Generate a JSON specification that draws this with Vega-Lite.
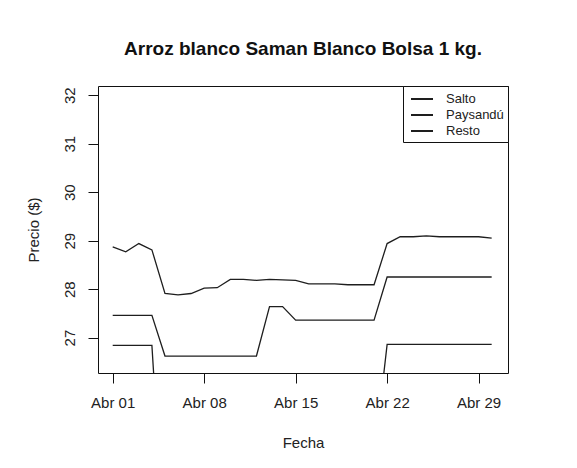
{
  "$schema": "https://vega.github.io/schema/vega-lite/v6.json",
  "autosize": "none",
  "padding": {"left": 98, "top": 86, "right": 69, "bottom": 95},
  "width": 410,
  "height": 287,
  "background": "white",
  "title": {"text": "Arroz blanco Saman Blanco Bolsa 1 kg.", "anchor": "middle", "fontSize": 19, "fontWeight": "bold", "font": "Liberation Sans", "color": "#111", "offset": 27, "frame": "group"},
  "config": {
    "font": "Liberation Sans",
    "view": {"stroke": "#111", "strokeWidth": 1},
    "axis": {"grid": false, "domain": false, "tickColor": "#111", "tickSize": 10, "tickWidth": 1, "labelColor": "#222", "titleColor": "#222", "labelFontSize": 15, "titleFontSize": 15, "titleFontWeight": "normal", "labelFont": "Liberation Sans", "titleFont": "Liberation Sans"},
    "legend": {"orient": "top-right", "offset": 0, "strokeColor": "#111", "fillColor": "white", "padding": 4, "symbolOffset": 6, "symbolType": "M-1.375,0H1.375", "symbolSize": 256, "symbolStrokeWidth": 2, "symbolFillColor": "transparent", "labelFontSize": 13, "labelOffset": 15, "rowPadding": -1, "labelColor": "#222"}
  },
  "data": {"values": [
    {"date": "2011-04-01", "series": "Resto", "price": 28.87},
    {"date": "2011-04-02", "series": "Resto", "price": 28.77},
    {"date": "2011-04-03", "series": "Resto", "price": 28.94},
    {"date": "2011-04-04", "series": "Resto", "price": 28.81},
    {"date": "2011-04-05", "series": "Resto", "price": 27.91},
    {"date": "2011-04-06", "series": "Resto", "price": 27.88},
    {"date": "2011-04-07", "series": "Resto", "price": 27.91},
    {"date": "2011-04-08", "series": "Resto", "price": 28.02},
    {"date": "2011-04-09", "series": "Resto", "price": 28.03},
    {"date": "2011-04-10", "series": "Resto", "price": 28.20},
    {"date": "2011-04-11", "series": "Resto", "price": 28.20},
    {"date": "2011-04-12", "series": "Resto", "price": 28.18},
    {"date": "2011-04-13", "series": "Resto", "price": 28.20},
    {"date": "2011-04-14", "series": "Resto", "price": 28.19},
    {"date": "2011-04-15", "series": "Resto", "price": 28.18},
    {"date": "2011-04-16", "series": "Resto", "price": 28.11},
    {"date": "2011-04-17", "series": "Resto", "price": 28.11},
    {"date": "2011-04-18", "series": "Resto", "price": 28.11},
    {"date": "2011-04-19", "series": "Resto", "price": 28.09},
    {"date": "2011-04-20", "series": "Resto", "price": 28.09},
    {"date": "2011-04-21", "series": "Resto", "price": 28.09},
    {"date": "2011-04-22", "series": "Resto", "price": 28.94},
    {"date": "2011-04-23", "series": "Resto", "price": 29.08},
    {"date": "2011-04-24", "series": "Resto", "price": 29.08},
    {"date": "2011-04-25", "series": "Resto", "price": 29.10},
    {"date": "2011-04-26", "series": "Resto", "price": 29.08},
    {"date": "2011-04-27", "series": "Resto", "price": 29.08},
    {"date": "2011-04-28", "series": "Resto", "price": 29.08},
    {"date": "2011-04-29", "series": "Resto", "price": 29.08},
    {"date": "2011-04-30", "series": "Resto", "price": 29.05},
    {"date": "2011-04-01", "series": "Paysandú", "price": 27.46},
    {"date": "2011-04-02", "series": "Paysandú", "price": 27.46},
    {"date": "2011-04-03", "series": "Paysandú", "price": 27.46},
    {"date": "2011-04-04", "series": "Paysandú", "price": 27.46},
    {"date": "2011-04-05", "series": "Paysandú", "price": 26.62},
    {"date": "2011-04-06", "series": "Paysandú", "price": 26.62},
    {"date": "2011-04-07", "series": "Paysandú", "price": 26.62},
    {"date": "2011-04-08", "series": "Paysandú", "price": 26.62},
    {"date": "2011-04-09", "series": "Paysandú", "price": 26.62},
    {"date": "2011-04-10", "series": "Paysandú", "price": 26.62},
    {"date": "2011-04-11", "series": "Paysandú", "price": 26.62},
    {"date": "2011-04-12", "series": "Paysandú", "price": 26.62},
    {"date": "2011-04-13", "series": "Paysandú", "price": 27.64},
    {"date": "2011-04-14", "series": "Paysandú", "price": 27.64},
    {"date": "2011-04-15", "series": "Paysandú", "price": 27.36},
    {"date": "2011-04-16", "series": "Paysandú", "price": 27.36},
    {"date": "2011-04-17", "series": "Paysandú", "price": 27.36},
    {"date": "2011-04-18", "series": "Paysandú", "price": 27.36},
    {"date": "2011-04-19", "series": "Paysandú", "price": 27.36},
    {"date": "2011-04-20", "series": "Paysandú", "price": 27.36},
    {"date": "2011-04-21", "series": "Paysandú", "price": 27.36},
    {"date": "2011-04-22", "series": "Paysandú", "price": 28.25},
    {"date": "2011-04-23", "series": "Paysandú", "price": 28.25},
    {"date": "2011-04-24", "series": "Paysandú", "price": 28.25},
    {"date": "2011-04-25", "series": "Paysandú", "price": 28.25},
    {"date": "2011-04-26", "series": "Paysandú", "price": 28.25},
    {"date": "2011-04-27", "series": "Paysandú", "price": 28.25},
    {"date": "2011-04-28", "series": "Paysandú", "price": 28.25},
    {"date": "2011-04-29", "series": "Paysandú", "price": 28.25},
    {"date": "2011-04-30", "series": "Paysandú", "price": 28.25},
    {"date": "2011-04-01", "series": "Salto", "price": 26.84},
    {"date": "2011-04-02", "series": "Salto", "price": 26.84},
    {"date": "2011-04-03", "series": "Salto", "price": 26.84},
    {"date": "2011-04-04", "series": "Salto", "price": 26.84},
    {"date": "2011-04-05", "series": "Salto", "price": 22.5},
    {"date": "2011-04-06", "series": "Salto", "price": 23.5},
    {"date": "2011-04-07", "series": "Salto", "price": 23.5},
    {"date": "2011-04-08", "series": "Salto", "price": 23.5},
    {"date": "2011-04-09", "series": "Salto", "price": 23.5},
    {"date": "2011-04-10", "series": "Salto", "price": 23.5},
    {"date": "2011-04-11", "series": "Salto", "price": 23.5},
    {"date": "2011-04-12", "series": "Salto", "price": 23.5},
    {"date": "2011-04-13", "series": "Salto", "price": 23.5},
    {"date": "2011-04-14", "series": "Salto", "price": 23.5},
    {"date": "2011-04-15", "series": "Salto", "price": 23.5},
    {"date": "2011-04-16", "series": "Salto", "price": 23.5},
    {"date": "2011-04-17", "series": "Salto", "price": 23.5},
    {"date": "2011-04-18", "series": "Salto", "price": 23.5},
    {"date": "2011-04-19", "series": "Salto", "price": 23.5},
    {"date": "2011-04-20", "series": "Salto", "price": 23.5},
    {"date": "2011-04-21", "series": "Salto", "price": 24.5},
    {"date": "2011-04-22", "series": "Salto", "price": 26.86},
    {"date": "2011-04-23", "series": "Salto", "price": 26.86},
    {"date": "2011-04-24", "series": "Salto", "price": 26.86},
    {"date": "2011-04-25", "series": "Salto", "price": 26.86},
    {"date": "2011-04-26", "series": "Salto", "price": 26.86},
    {"date": "2011-04-27", "series": "Salto", "price": 26.86},
    {"date": "2011-04-28", "series": "Salto", "price": 26.86},
    {"date": "2011-04-29", "series": "Salto", "price": 26.86},
    {"date": "2011-04-30", "series": "Salto", "price": 26.86}
  ]},
  "mark": {"type": "line", "clip": true, "strokeWidth": 1.3, "interpolate": "linear"},
  "encoding": {
    "x": {
      "field": "date", "type": "temporal",
      "scale": {"type": "utc", "domain": [{"year": 2011, "month": 3, "date": 30, "hours": 21, "utc": true}, {"year": 2011, "month": 5, "date": 1, "hours": 6, "utc": true}], "nice": false},
      "axis": {
        "title": "Fecha",
        "values": [{"year": 2011, "month": 4, "date": 1, "utc": true}, {"year": 2011, "month": 4, "date": 8, "utc": true}, {"year": 2011, "month": 4, "date": 15, "utc": true}, {"year": 2011, "month": 4, "date": 22, "utc": true}, {"year": 2011, "month": 4, "date": 29, "utc": true}],
        "labelExpr": "'Abr ' + utcFormat(datum.value, '%d')",
        "labelPadding": 12, "labelBaseline": "top",
        "titleX": 205, "titleY": 69, "titleBaseline": "middle", "titleAlign": "center"
      }
    },
    "y": {
      "field": "price", "type": "quantitative",
      "scale": {"domain": [26.27, 32.19], "nice": false, "zero": false},
      "axis": {
        "title": "Precio ($)",
        "values": [27, 28, 29, 30, 31, 32],
        "labelAngle": -90, "labelAlign": "center", "labelBaseline": "middle", "labelPadding": 19,
        "titleX": -65, "titleY": 143.5, "titleAngle": -90, "titleBaseline": "middle", "titleAlign": "center"
      }
    },
    "color": {
      "field": "series", "type": "nominal",
      "scale": {"domain": ["Salto", "Paysandú", "Resto"], "range": ["#1e1e1e", "#1e1e1e", "#1e1e1e"]},
      "legend": {"title": null}
    }
  }
}
